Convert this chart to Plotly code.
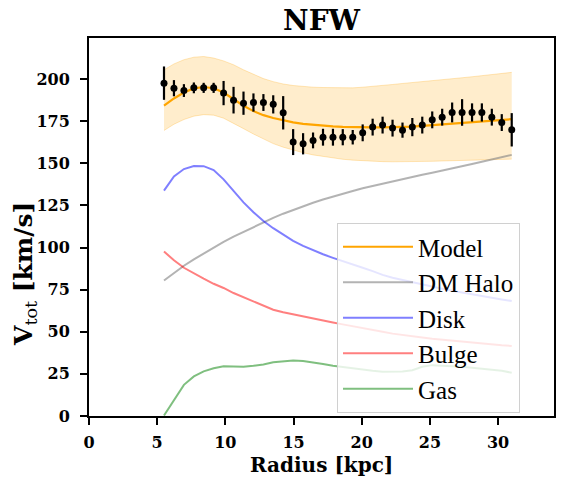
import plotly.graph_objects as go

# ---------------- data ----------------
radius = [5.50, 6.23, 6.96, 7.69, 8.41, 9.14, 9.87, 10.60, 11.33, 12.06, 12.79, 13.51,
          14.24, 14.97, 15.70, 16.43, 17.16, 17.89, 18.61, 19.34, 20.07, 20.80, 21.53, 22.26,
          22.99, 23.71, 24.44, 25.17, 25.90, 26.63, 27.36, 28.09, 28.81, 29.54, 30.27, 31.00]

v_obs = [197.6, 194.6, 193.2, 194.8, 194.8, 194.8, 191.7, 187.5, 185.7, 186.1, 186.1, 185.0,
         180.0, 162.6, 161.6, 163.6, 165.5, 165.5, 165.5, 165.5, 168.1, 171.5, 172.7, 170.9,
         169.7, 171.5, 172.7, 175.8, 177.4, 180.2, 180.2, 180.2, 180.2, 177.4, 174.2, 169.9]
v_err = [9.9, 4.8, 3.8, 3.2, 3.0, 3.0, 7.2, 7.9, 6.9, 5.4, 5.0, 5.4,
         9.9, 7.7, 6.3, 4.7, 5.0, 5.0, 4.8, 4.3, 5.0, 5.0, 5.0, 5.0,
         4.5, 5.4, 5.0, 5.0, 5.0, 5.9, 7.9, 5.4, 5.4, 5.0, 5.0, 9.9]

v_model = [184.3, 188.5, 192.0, 194.5, 195.3, 194.6, 192.0, 188.1, 184.2, 181.0, 178.6, 176.9,
           175.4, 174.3, 173.4, 172.8, 172.3, 171.9, 171.6, 171.4, 171.3, 171.3, 171.3, 171.4,
           171.5, 171.8, 172.2, 172.6, 173.1, 173.6, 174.1, 174.6, 175.0, 175.4, 175.8, 176.2]
band_hi = [205.5, 209.0, 211.5, 213.0, 213.4, 212.5, 210.8, 208.5, 205.5, 202.7, 200.3, 198.5,
           197.1, 196.2, 195.6, 195.2, 195.0, 194.8, 194.7, 194.8, 195.2, 195.6, 196.2, 196.8,
           197.4, 197.9, 198.4, 199.0, 199.6, 200.2, 200.8, 201.4, 202.0, 202.7, 203.3, 204.0]
band_lo = [169.5, 173.2, 176.0, 178.0, 178.9, 178.6, 176.8, 173.9, 170.6, 167.4, 164.3, 161.7,
           159.6, 157.8, 156.3, 155.0, 154.0, 153.1, 152.4, 151.9, 151.5, 151.2, 151.0, 150.9,
           150.9, 151.0, 151.1, 151.2, 151.4, 151.6, 151.8, 152.0, 152.1, 152.3, 152.4, 152.5]

v_halo = [80.4, 85.0, 89.2, 93.0, 96.5, 100.0, 103.3, 106.5, 109.4, 112.2, 115.0, 117.6,
          120.1, 122.4, 124.6, 126.6, 128.5, 130.3, 132.0, 133.6, 135.2, 136.6, 138.0, 139.3,
          140.6, 141.9, 143.2, 144.4, 145.6, 146.8, 148.0, 149.6, 150.9, 152.2, 153.6, 155.0]
v_disk = [133.8, 142.2, 146.6, 148.4, 148.3, 146.0, 140.5, 133.5, 126.8, 121.0, 115.8, 111.5,
          107.5, 104.0, 101.0, 98.4, 96.0, 93.9, 91.8, 89.9, 88.0, 86.0, 83.8, 82.1,
          80.7, 79.3, 78.0, 76.7, 75.5, 74.3, 73.2, 72.1, 71.1, 70.1, 69.2, 68.3]
v_bulge = [97.6, 92.5, 88.0, 84.5, 81.5, 78.5, 76.0, 73.0, 70.5, 68.0, 65.5, 63.1,
           61.6, 60.3, 59.0, 57.9, 56.6, 55.5, 54.4, 53.4, 52.4, 51.2, 50.0, 48.9,
           48.0, 47.3, 46.6, 45.9, 45.3, 44.7, 44.1, 43.5, 43.0, 42.5, 42.0, 41.6]
v_gas = [0.3, 9.5, 18.5, 23.5, 26.5, 28.3, 29.5, 29.4, 29.3, 29.8, 30.6, 31.9,
         32.6, 33.0, 32.6, 31.9, 30.9, 29.8, 29.0, 28.3, 27.6, 26.8, 26.3, 26.3,
         26.4, 27.2, 29.2, 30.2, 30.1, 29.6, 29.3, 28.6, 28.1, 27.4, 26.9, 25.7]

x_ticks = [0, 5, 10, 15, 20, 25, 30]
y_ticks = [0, 25, 50, 75, 100, 125, 150, 175, 200]

# ---------------- figure ----------------
SERIF = "Liberation Serif"
BOLD = "DejaVu Serif"
fig = go.Figure()

fig.add_trace(go.Scatter(x=radius, y=band_lo, mode="lines",
                         line=dict(color="rgba(255,165,0,0.25)", width=1),
                         showlegend=False, hoverinfo="skip"))
fig.add_trace(go.Scatter(x=radius, y=band_hi, mode="lines", fill="tonexty",
                         fillcolor="rgba(255,165,0,0.2)",
                         line=dict(color="rgba(255,165,0,0.25)", width=1),
                         showlegend=False, hoverinfo="skip"))

comps = [
    ("DM Halo", v_halo, "rgba(128,128,128,0.6)", 2),
    ("Disk", v_disk, "rgba(0,0,255,0.5)", 3),
    ("Bulge", v_bulge, "rgba(255,0,0,0.5)", 4),
    ("Gas", v_gas, "rgba(0,128,0,0.5)", 5),
]
for name, vals, col, rank in comps:
    fig.add_trace(go.Scatter(x=radius, y=vals, mode="lines", name=name,
                             line=dict(color=col, width=2),
                             legendrank=rank))

fig.add_trace(go.Scatter(x=radius, y=v_model, mode="lines", name="Model",
                         line=dict(color="#FFA500", width=2.2),
                         legendrank=1))

fig.add_trace(go.Scatter(x=radius, y=v_obs, mode="markers", showlegend=False,
                         marker=dict(color="black", size=7),
                         error_y=dict(type="data", array=v_err, visible=True,
                                      color="black", thickness=2.2, width=0)))

axis_common = dict(
    showline=True, linecolor="black", linewidth=2, mirror=True,
    ticks="outside", ticklen=7, tickwidth=1.6, tickcolor="black",
    showgrid=False, zeroline=False, automargin=False,
    tickfont=dict(family=BOLD, size=16, color="black", weight="bold"),
)

pl, pr, pt, pb = 89, 554, 38, 416

fig.update_layout(
    width=564, height=490,
    margin=dict(l=pl, r=564 - pr, t=pt, b=490 - pb, autoexpand=False),
    paper_bgcolor="white", plot_bgcolor="white",
    font=dict(family=SERIF, color="black"),
    title=dict(text="<b>NFW</b>", x=0.5, xref="paper", xanchor="center",
               y=1 - 20 / 490, yref="container", yanchor="middle", automargin=False,
               font=dict(family=BOLD, size=28, color="black")),
    xaxis=dict(range=[0, 34.1], tickvals=x_ticks, ticktext=[str(t) for t in x_ticks],
               ticklabelstandoff=4, **axis_common),
    yaxis=dict(range=[0, 224.4], tickvals=y_ticks, ticktext=[str(t) for t in y_ticks],
               ticklabelstandoff=7, **axis_common),
    legend=dict(x=(337 - pl) / (pr - pl), y=(pb - 223) / (pb - pt),
                xanchor="left", yanchor="top", traceorder="normal",
                bgcolor="rgba(255,255,255,0.8)", bordercolor="#d0d0d0", borderwidth=1,
                font=dict(family=SERIF, size=25, color="black"),
                itemwidth=70),
    annotations=[
        dict(text="<b>Radius [kpc]</b>", x=0.5, y=(pb - 465) / (pb - pt),
             xref="paper", yref="paper",
             showarrow=False, xanchor="center", yanchor="middle",
             font=dict(family=BOLD, size=20, color="black")),
        dict(text="<b>V</b><sub>tot</sub><b> [km/s]</b>",
             x=(25 - pl) / (pr - pl), y=(pb - 274) / (pb - pt),
             xref="paper", yref="paper", textangle=-90,
             showarrow=False, xanchor="center", yanchor="middle",
             font=dict(family=BOLD, size=25, color="black")),
    ],
)

fig.write_html("out.html", config={"displayModeBar": False},
               post_script="document.body.style.margin='0px';")
